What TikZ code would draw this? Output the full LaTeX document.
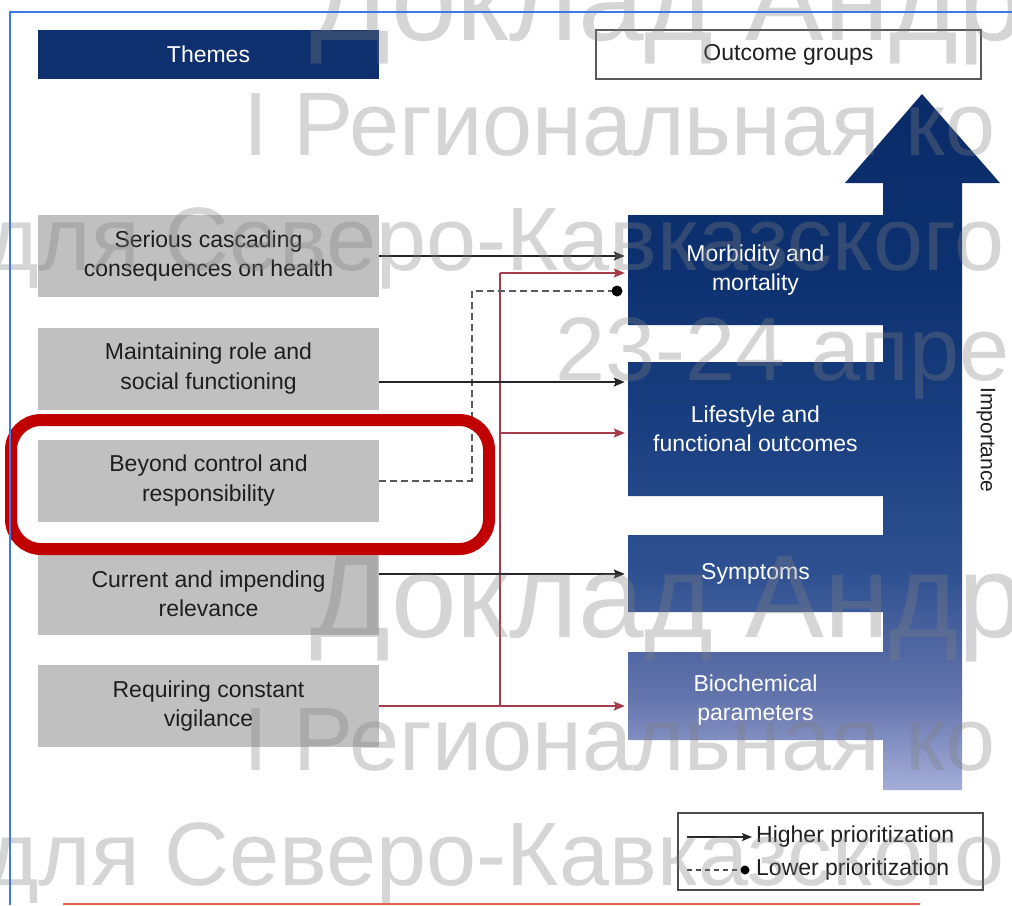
\documentclass[tikz,border=0pt]{standalone}
\usepackage{fontspec}
\setmainfont{Liberation Sans}
\usetikzlibrary{arrows.meta,calc}
\definecolor{navyhead}{RGB}{14,48,110}
\definecolor{boxgray}{RGB}{192,192,192}
\definecolor{txtdark}{RGB}{30,30,30}
\definecolor{redline}{RGB}{165,60,75}
\definecolor{hlred}{RGB}{192,0,0}
\definecolor{frameblue}{RGB}{60,120,232}
\definecolor{framered}{RGB}{230,95,85}
\definecolor{wmgray}{RGB}{128,128,128}
\definecolor{shA}{RGB}{165,174,217}
\definecolor{shB}{RGB}{101,117,173}
\definecolor{shC}{RGB}{47,81,145}
\definecolor{shD}{RGB}{26,63,128}
\definecolor{shE}{RGB}{13,49,112}
\definecolor{shF}{RGB}{10,43,104}
\pgfdeclareverticalshading{impshade}{100bp}{color(0bp)=(shA); color(25bp)=(shA); color(31.5bp)=(shB); color(40.5bp)=(shC); color(51bp)=(shD); color(62.5bp)=(shE); color(75bp)=(shF); color(100bp)=(shF)}
\tikzset{
  themebox/.style={fill=boxgray, minimum width=341pt, minimum height=82pt, inner sep=0pt, align=center, text=txtdark, font=\fontsize{23}{29.5}\selectfont},
  headbox/.style={minimum width=#1, minimum height=49pt, inner sep=0pt, font=\fontsize{23}{28}\selectfont},
  outtxt/.style={minimum width=255pt, inner sep=0pt, align=center, text=white, font=\fontsize{23}{29.5}\selectfont},
  hiarrow/.style={draw=black!85, line width=1.8pt, -{Stealth[length=11pt,width=9pt,inset=2pt]}, shorten >=3pt},
  redarrow/.style={draw=redline, line width=1.3pt, -{Stealth[length=11pt,width=9pt,inset=2pt]}, shorten >=3pt},
  redplain/.style={draw=redline, line width=1.3pt},
  loline/.style={draw=black!65, line width=2pt, dash pattern=on 7pt off 4pt},
  legtxt/.style={anchor=west, inner sep=0pt, text=txtdark, font=\fontsize{23}{28}\selectfont},
  wm/.style={anchor=base west, inner sep=0pt, text=wmgray, text opacity=0.33, font=\fontsize{#1}{#1}\selectfont},
}
\begin{document}
\begin{tikzpicture}[x=1pt,y=-1pt]
\useasboundingbox (0,0) rectangle (1012,905);
\fill[white] (0,0) rectangle (1012,905);

% headers
\node[headbox=341pt, fill=navyhead, text=white] (themes) at (208.5,54.5) {Themes};
\node[headbox=385pt, draw=black!65, line width=1.5pt, fill=white, text=txtdark] (outc) at (788.5,54.5) {Outcome groups};

% big importance arrow with outcome steps
\shade[shading=impshade] (962,790) -- (962,183) -- (1000,183) -- (922,94) -- (845,183) -- (883,183)
  -- (883,215) -- (628,215) -- (628,325) -- (883,325)
  -- (883,362) -- (628,362) -- (628,496) -- (883,496)
  -- (883,535) -- (628,535) -- (628,612) -- (883,612)
  -- (883,652) -- (628,652) -- (628,740) -- (883,740)
  -- (883,790) -- cycle;

\node[outtxt, minimum height=110pt] (o1) at (755.5,270) {Morbidity and\\mortality};
\node[outtxt, minimum height=134pt] (o2) at (755.5,429) {Lifestyle and\\functional outcomes};
\node[outtxt, minimum height=77pt] (o3) at (755.5,573.5) {Symptoms};
\node[outtxt, minimum height=88pt] (o4) at (755.5,700) {Biochemical\\parameters};
\node[rotate=-90, inner sep=0pt, text=txtdark, font=\fontsize{21}{24}\selectfont] (imp) at (986,440) {Importance};

% themes
\node[themebox] (t1) at (208.5,256) {Serious cascading\\consequences on health};
\node[themebox] (t2) at (208.5,368.5) {Maintaining role and\\social functioning};
\node[themebox] (t3) at (208.5,480.5) {Beyond control and\\responsibility};
\node[themebox] (t4) at (208.5,594) {Current and impending\\relevance};
\node[themebox] (t5) at (208.5,706) {Requiring constant\\vigilance};

% connectors
\coordinate (rt) at (500,273);
\coordinate (rm) at (500,433);
\coordinate (dk) at (472,291);
\coordinate (lodot) at (617,291);

\draw[redplain] (t5.east -| rt) -- (rt);
\draw[redarrow] (rt) -- (rt -| o1.west);
\draw[redarrow] (rm) -- (rm -| o2.west);
\draw[redarrow] (t5.east) -- (t5.east -| o4.west);

\draw[loline] (t3.east) -- (t3.east -| dk) -- (dk) -- (lodot);
\fill[black] (lodot) circle (5.5pt);

\draw[hiarrow] (t1.east) -- (t1.east -| o1.west);
\draw[hiarrow] ([yshift=-13.5pt]t2.east) -- ([yshift=-13.5pt]t2.east -| o2.west);
\draw[hiarrow] ([yshift=20pt]t4.east) -- ([yshift=20pt]t4.east -| o3.west);

% legend
\node[draw=black!70, line width=1.5pt, minimum width=305pt, minimum height=77pt, inner sep=0pt] (leg) at (830.5,851.5) {};
\coordinate (la1) at (687,837);
\coordinate (la2) at (752,837);
\coordinate (lb1) at (687,870);
\coordinate (lb2) at (745,870);
\draw[draw=black!85, line width=1.6pt, -{Stealth[length=10pt,width=8pt,inset=2pt]}] (la1) -- (la2);
\draw[draw=black!70, line width=1.6pt, dash pattern=on 5pt off 4pt] (lb1) -- (lb2);
\fill[black] (lb2) circle (4.5pt);
\node[legtxt] (lt1) at (756,837) {Higher prioritization};
\node[legtxt] (lt2) at (756,870) {Lower prioritization};

% watermark
\node[wm=118] (w1) at (310,40) {Доклад Андр};
\node[wm=90] (w2) at (243,155) {I Региональная ко};
\node[wm=90] (w3) at (-14,270) {для Северо-Кавказского};
\node[wm=90] (w4) at (555,380) {23-24 апре};
\node[wm=118] (w5) at (310,637) {Доклад Андр};
\node[wm=90] (w6) at (243,770) {I Региональная ко};
\node[wm=90] (w7) at (-14,885) {для Северо-Кавказского};

% annotations
\draw[hlred, line width=12pt, rounded corners=30pt] (11,420) rectangle (489,549);
\draw[frameblue, line width=2pt] (10,905) -- (10,12) -- (1012,12);
\draw[framered, line width=2pt] (63,904) -- (920,904);
\end{tikzpicture}
\end{document}
